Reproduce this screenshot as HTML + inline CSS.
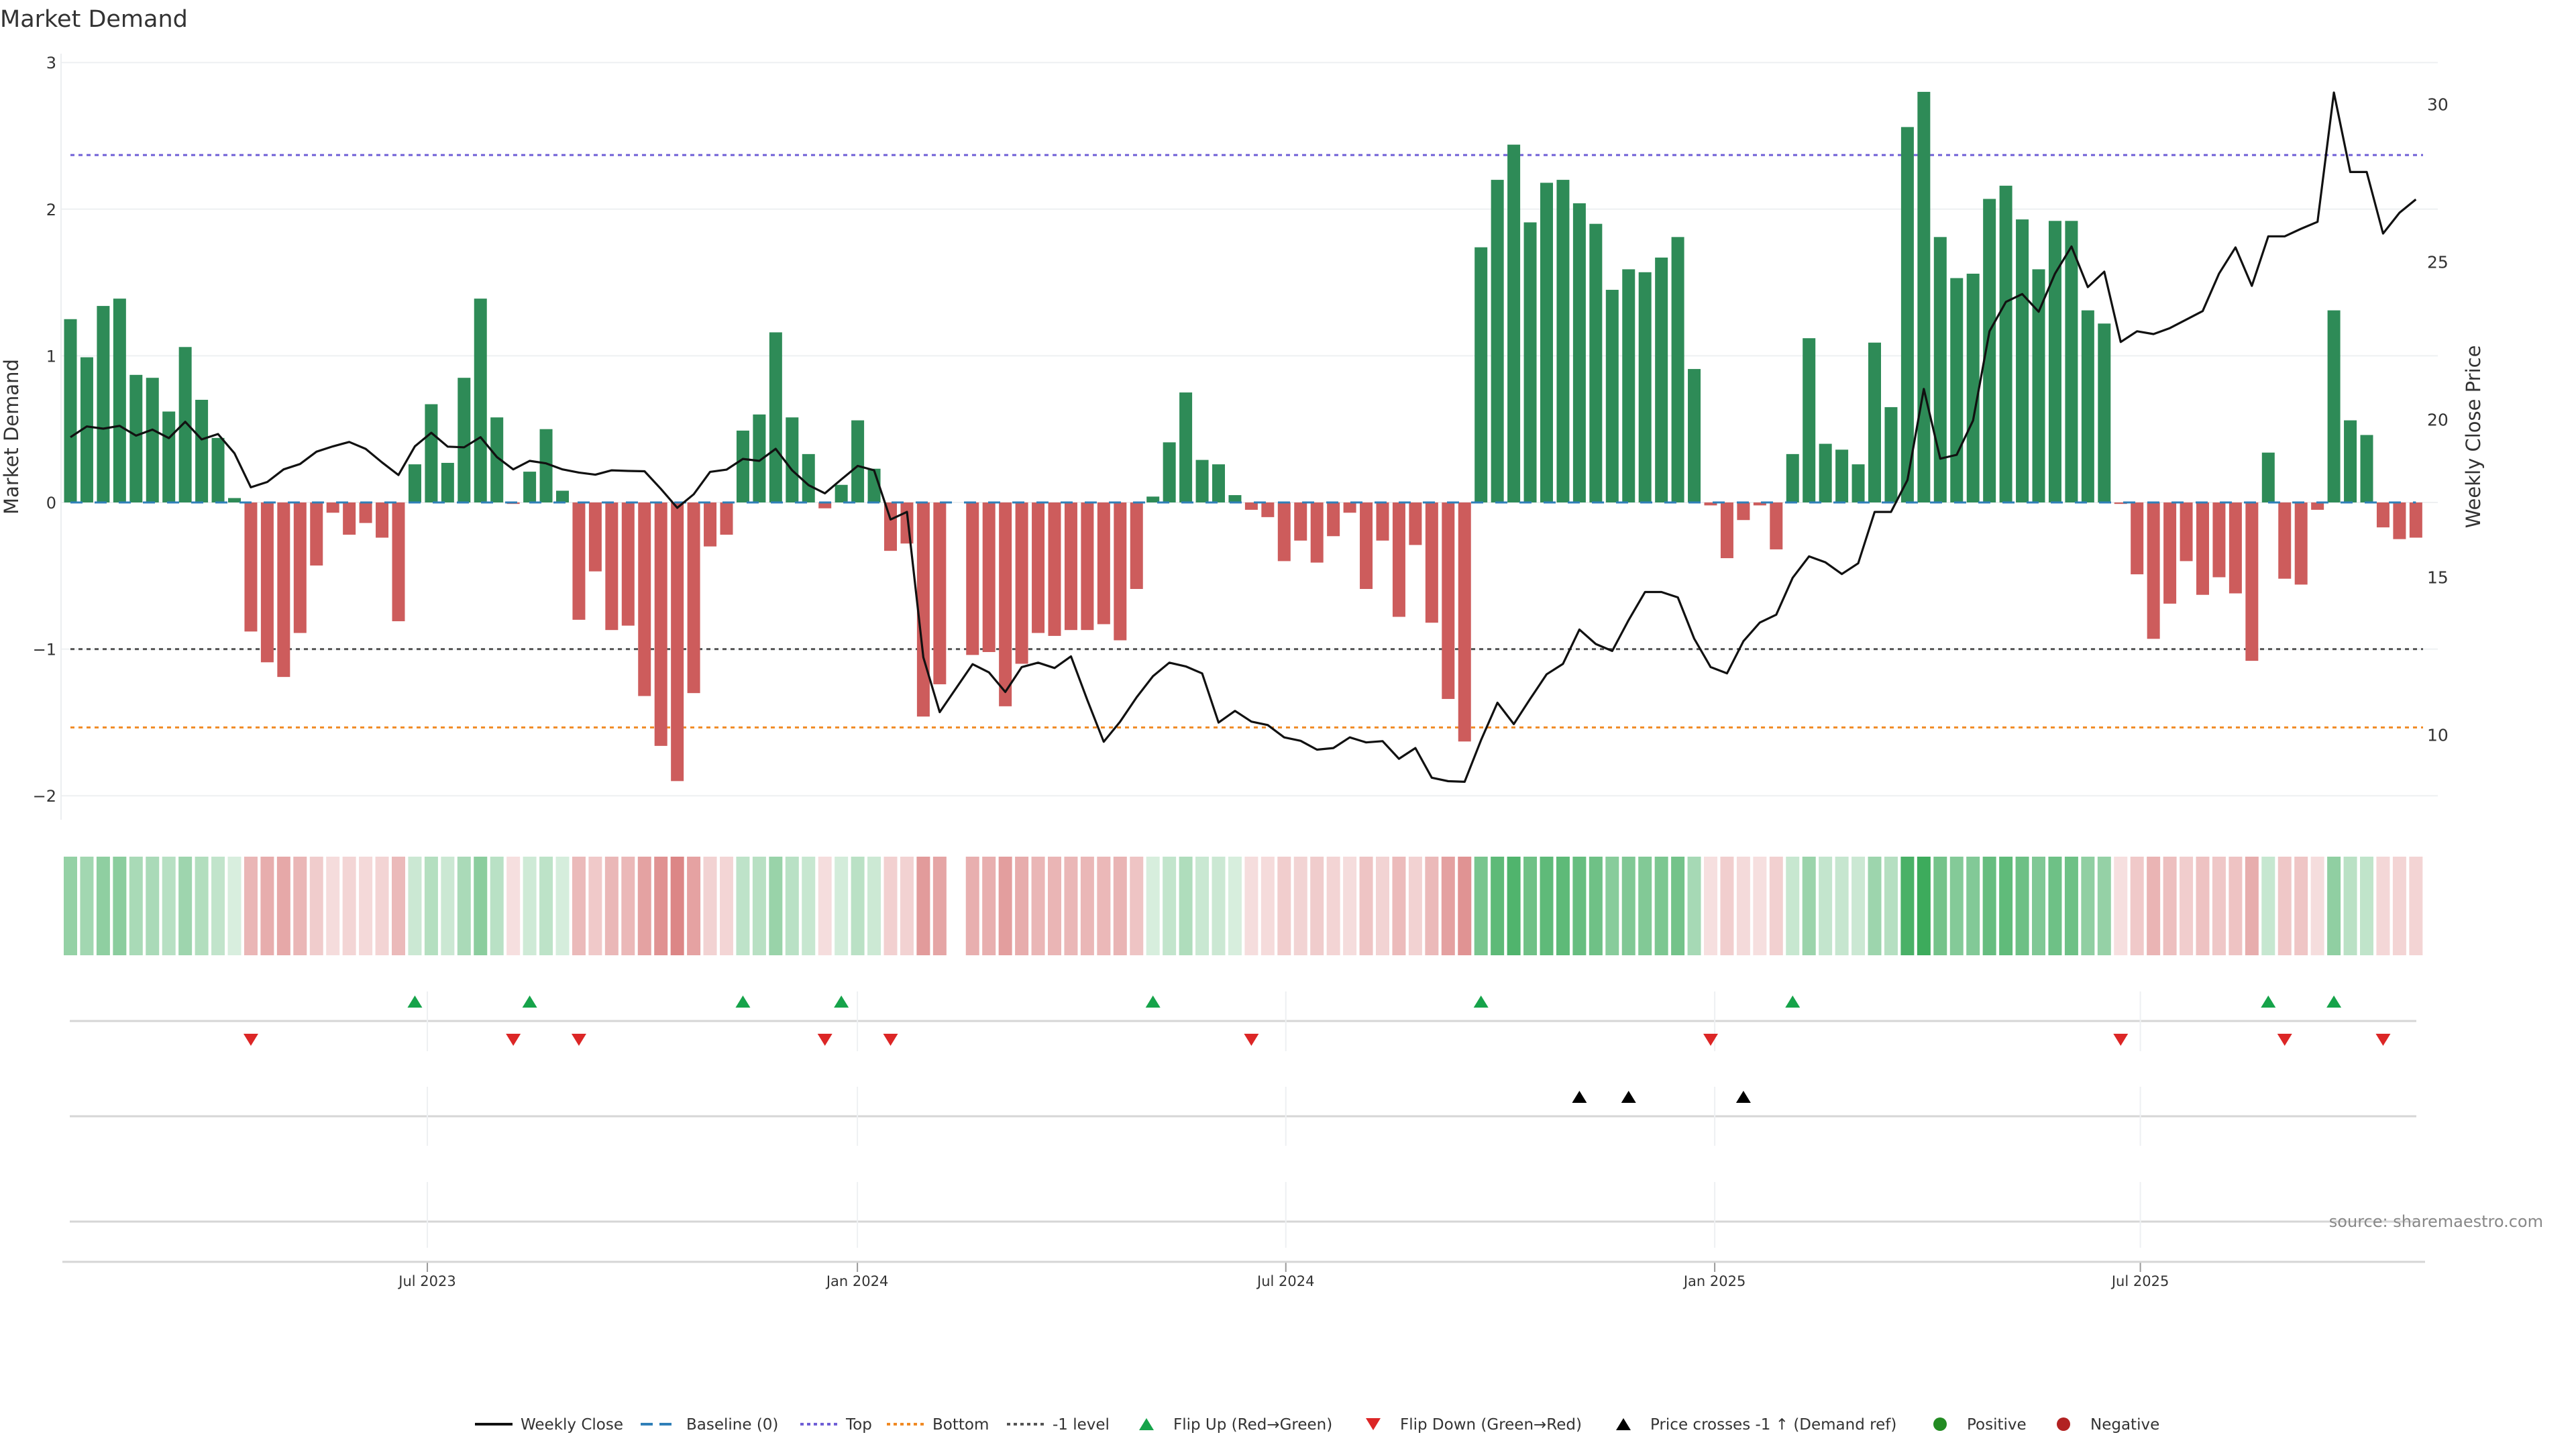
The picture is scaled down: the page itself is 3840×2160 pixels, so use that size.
<!DOCTYPE html>
<html><head><meta charset="utf-8"><style>
html,body{margin:0;padding:0;background:#fff;}
svg{display:block;font-family:"DejaVu Sans","Liberation Sans",sans-serif;}
</style></head><body>
<svg id="chart" width="3840" height="2160" viewBox="0 0 3840 2160" xmlns="http://www.w3.org/2000/svg">
<text x="0" y="40" font-size="35" fill="#333">Market Demand</text>
<g id="grid"></g>
<g id="refs"></g>
<g id="bars"></g>
<g id="base"></g>
<g id="price"></g>
<g id="axes"></g>
<g id="strip"></g>
<g id="markers"></g>
<g id="legend"></g>
<text x="3791" y="1829" font-size="24" fill="#888" text-anchor="end">source: sharemaestro.com</text>
</svg>
<script>
const demand=[1.25,0.99,1.34,1.39,0.87,0.85,0.62,1.06,0.70,0.44,0.03,-0.88,-1.09,-1.19,-0.89,-0.43,-0.07,-0.22,-0.14,-0.24,-0.81,0.26,0.67,0.27,0.85,1.39,0.58,-0.01,0.21,0.50,0.08,-0.80,-0.47,-0.87,-0.84,-1.32,-1.66,-1.90,-1.30,-0.30,-0.22,0.49,0.60,1.16,0.58,0.33,-0.04,0.12,0.56,0.23,-0.33,-0.28,-1.46,-1.24,null,-1.04,-1.02,-1.39,-1.10,-0.89,-0.91,-0.87,-0.87,-0.83,-0.94,-0.59,0.04,0.41,0.75,0.29,0.26,0.05,-0.05,-0.10,-0.40,-0.26,-0.41,-0.23,-0.07,-0.59,-0.26,-0.78,-0.29,-0.82,-1.34,-1.63,1.74,2.20,2.44,1.91,2.18,2.20,2.04,1.90,1.45,1.59,1.57,1.67,1.81,0.91,-0.02,-0.38,-0.12,-0.02,-0.32,0.33,1.12,0.40,0.36,0.26,1.09,0.65,2.56,2.80,1.81,1.53,1.56,2.07,2.16,1.93,1.59,1.92,1.92,1.31,1.22,-0.01,-0.49,-0.93,-0.69,-0.40,-0.63,-0.51,-0.62,-1.08,0.34,-0.52,-0.56,-0.05,1.31,0.56,0.46,-0.17,-0.25,-0.24];
const price=[19.44,19.78,19.71,19.80,19.49,19.68,19.41,19.93,19.37,19.54,18.93,17.85,18.02,18.42,18.59,18.98,19.15,19.29,19.07,18.64,18.24,19.15,19.58,19.14,19.12,19.44,18.81,18.42,18.69,18.61,18.42,18.32,18.25,18.39,18.37,18.36,17.80,17.20,17.63,18.34,18.41,18.75,18.69,19.07,18.39,17.92,17.66,18.10,18.53,18.39,16.83,17.07,12.46,10.72,null,12.24,11.98,11.36,12.15,12.29,12.12,12.49,11.10,9.78,10.42,11.19,11.86,12.29,12.17,11.95,10.39,10.76,10.42,10.31,9.92,9.81,9.53,9.58,9.92,9.76,9.80,9.24,9.58,8.64,8.53,8.51,9.83,11.02,10.34,11.14,11.92,12.25,13.34,12.88,12.66,13.64,14.53,14.53,14.36,13.05,12.15,11.95,12.97,13.56,13.81,14.98,15.66,15.47,15.10,15.44,17.07,17.07,18.08,20.97,18.76,18.88,19.97,22.80,23.73,23.98,23.42,24.63,25.49,24.20,24.69,22.46,22.80,22.71,22.90,23.17,23.44,24.63,25.46,24.24,25.81,25.81,26.05,26.27,30.37,27.85,27.85,25.90,26.56,26.98];
const crossIdx=[92,95,102];
const leftTicks=[3,2,1,0,-1,-2];
const leftTickLabels=["3","2","1","0","\u22121","\u22122"];
const rightTicks=[30,25,20,15,10];
const dateTickPos=[21.76,47.98,74.1,100.25,126.2];
const dateTickLabels=["Jul 2023","Jan 2024","Jul 2024","Jan 2025","Jul 2025"];
const topLevel=2.369, minusLevel=-1, bottomLevel=-1.534;

const NS="http://www.w3.org/2000/svg";
function mk(parent,tag,attrs,txt){const e=document.createElementNS(NS,tag);for(const k in attrs)e.setAttribute(k,attrs[k]);if(txt!==undefined)e.textContent=txt;document.getElementById(parent).appendChild(e);return e;}
const X=i=>105+i*24.45;
const Y=v=>749-v*218.6;
const YP=p=>155.4+(30-p)*47;
const L=91,R=3612;

leftTicks.forEach((t,k)=>{
  let g=mk('grid','line',{x1:L,x2:R+22,y1:Y(t),y2:Y(t),stroke:'#eef0f2','stroke-width':2});
  
  
  let tl=mk('axes','text',{x:84,y:Y(t)+9,'font-size':24,fill:'#333','text-anchor':'end'},leftTickLabels[k]);
  
  
});
mk('axes','line',{x1:L,x2:L,y1:80,y2:1222,stroke:'#eceef0','stroke-width':2});
rightTicks.forEach(t=>{
  let tl=mk('axes','text',{x:3618,y:YP(t)+9,'font-size':25,fill:'#333'},String(t));
  
  
});
let yt=mk('axes','text',{x:0,y:0,'font-size':29,fill:'#333','text-anchor':'middle',transform:'translate(27,651) rotate(-90)'},'Market Demand');


let yt2=mk('axes','text',{x:0,y:0,'font-size':29,fill:'#333','text-anchor':'middle',transform:'translate(3697,651) rotate(-90)'},'Weekly Close Price');



[[topLevel,'#6f5fd6','top-line'],[minusLevel,'#555','minus-one-line'],[bottomLevel,'#f08a24','bottom-line']].forEach(r=>{
  let l=mk('refs','line',{x1:105,x2:R,y1:Y(r[0]),y2:Y(r[0]),stroke:r[1],'stroke-width':3,'stroke-dasharray':'6 6'});
  
  
});

demand.forEach((v,i)=>{
  if(v===null)return;
  const y1=Y(Math.max(v,0)),y2=Y(Math.min(v,0));
  let b=mk('bars','rect',{x:X(i)-9.5,y:y1,width:19,height:Math.max(y2-y1,1),fill:v>=0?'#2e8b57':'#cd5c5c'});
  
  
});
let bl=mk('base','line',{x1:X(0),x2:X(demand.length-1),y1:Y(0),y2:Y(0),stroke:'#2f7fb8','stroke-width':3,'stroke-dasharray':'18 18'});



let pts=[];price.forEach((p,i)=>{if(p!==null)pts.push(X(i).toFixed(1)+','+YP(p).toFixed(1));});
let pl=mk('price','polyline',{points:pts.join(' '),fill:'none',stroke:'#111','stroke-width':3.2,'stroke-linejoin':'round'});



const maxAbs=2.8;
demand.forEach((v,i)=>{
  if(v===null)return;
  const a=Math.min(0.95,0.18+0.75*Math.abs(v)/maxAbs);
  let c=mk('strip','rect',{x:X(i)-10,y:1277,width:20,height:147,fill:v>=0?'rgb(46,165,80)':'rgb(205,80,80)','fill-opacity':a.toFixed(3)});
  
  
});

[1522,1664,1821].forEach(y=>{
  mk('markers','line',{x1:104,x2:3602,y1:y,y2:y,stroke:'#d6d6d6','stroke-width':3});
});
dateTickPos.forEach((p,k)=>{
  const x=X(p);
  [[1478,1567],[1620,1708],[1762,1860]].forEach(s=>mk('markers','line',{x1:x,x2:x,y1:s[0],y2:s[1],stroke:'#eef0f2','stroke-width':2}));
  mk('axes','line',{x1:x,x2:x,y1:1881,y2:1896,stroke:'#999','stroke-width':2});
  let tl=mk('axes','text',{x:x,y:1917,'font-size':21,fill:'#333','text-anchor':'middle'},dateTickLabels[k]);
  
  
});
mk('axes','line',{x1:93,x2:3615,y1:1881,y2:1881,stroke:'#d6d6d6','stroke-width':3});

function tri(g,x,y,up,color,name){
  const h=18,w=11;
  const d=up?`M${x},${y-h/2} L${x+w},${y+h/2} L${x-w},${y+h/2} Z`:`M${x-w},${y-h/2} L${x+w},${y-h/2} L${x},${y+h/2} Z`;
  let t=mk(g,'path',{d:d,fill:color});
  
  
}
let prev=null;
demand.forEach((v,i)=>{
  if(v===null)return;
  if(prev!==null){
    if(prev<0&&v>=0)tri('markers',X(i),1493,true,'#16a34a','flip-up-marker');
    if(prev>=0&&v<0)tri('markers',X(i),1550,false,'#dc2626','flip-down-marker');
  }
  prev=v;
});
crossIdx.forEach(i=>tri('markers',X(i),1635,true,'#000','price-cross-marker'));

const lg=[
 ['line',708,'Weekly Close','#111',''],
 ['line',955,'Baseline (0)','#2f7fb8','18 10'],
 ['line',1193,'Top','#6f5fd6','5 5'],
 ['line',1322,'Bottom','#f08a24','5 5'],
 ['line',1501,'-1 level','#555','5 5'],
 ['up',1709,'Flip Up (Red\u2192Green)','#16a34a'],
 ['down',2047,'Flip Down (Green\u2192Red)','#dc2626'],
 ['up',2420,'Price crosses -1 \u2191 (Demand ref)','#000'],
 ['dot',2892,'Positive','#228b22'],
 ['dot',3076,'Negative','#b22222']];
lg.forEach(it=>{
  const y=2123;let tx;
  if(it[0]==='line'){mk('legend','line',{x1:it[1],x2:it[1]+56,y1:y,y2:y,stroke:it[3],'stroke-width':4,'stroke-dasharray':it[4]});tx=it[1]+68;}
  else if(it[0]==='dot'){mk('legend','circle',{cx:it[1],cy:y,r:10,fill:it[3]});tx=it[1]+40;}
  else{tri('legend',it[1],y,it[0]==='up',it[3],'legend-marker');tx=it[1]+40;}
  let t=mk('legend','text',{x:tx,y:y+8,'font-size':23,fill:'#333'},it[2]);
  
  
});
</script>
</body></html>
